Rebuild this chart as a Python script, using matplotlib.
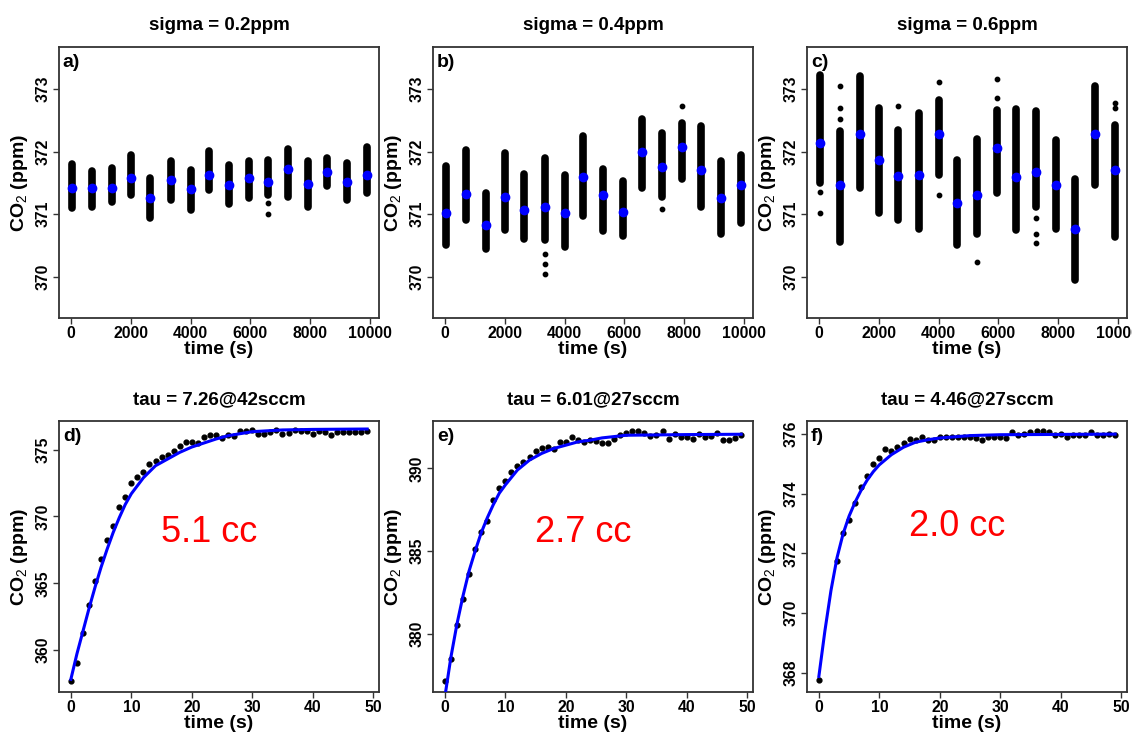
import matplotlib
matplotlib.use('Agg')
import matplotlib.pyplot as plt
import numpy as np

plt.rcParams['font.family'] = ['Liberation Sans', 'DejaVu Sans']
plt.rcParams['mathtext.fontset'] = 'custom'
plt.rcParams['mathtext.rm'] = 'Liberation Sans'
plt.rcParams['mathtext.it'] = 'Liberation Sans:italic'
plt.rcParams['mathtext.bf'] = 'Liberation Sans:bold'

# --- top row: repeated measurements, 16 groups ---
cluster_t = [50, 700, 1380, 2010, 2660, 3340, 4000, 4630, 5300, 5950, 6600, 7270, 7940, 8560, 9230, 9890]

a_mean = [371.41, 371.42, 371.42, 371.57, 371.26, 371.55, 371.40, 371.63, 371.47, 371.57, 371.51, 371.72, 371.48, 371.67, 371.51, 371.63]
a_lo = [371.09, 371.12, 371.19, 371.30, 370.93, 371.22, 371.07, 371.39, 371.16, 371.26, 371.30, 371.28, 371.12, 371.45, 371.22, 371.34]
a_hi = [371.80, 371.69, 371.73, 371.94, 371.58, 371.85, 371.71, 372.01, 371.79, 371.85, 371.86, 372.04, 371.85, 371.89, 371.81, 372.07]
a_out_i = [10, 10]
a_out_v = [371.00, 371.17]

b_mean = [371.01, 371.32, 370.82, 371.28, 371.06, 371.11, 371.01, 371.59, 371.31, 371.03, 371.99, 371.76, 372.07, 371.70, 371.26, 371.47]
b_lo = [370.51, 370.91, 370.45, 370.75, 370.60, 370.59, 370.48, 370.97, 370.73, 370.65, 371.41, 371.28, 371.56, 371.11, 370.68, 370.85]
b_hi = [371.77, 372.03, 371.33, 371.97, 371.64, 371.89, 371.63, 372.24, 371.72, 371.53, 372.52, 372.30, 372.45, 372.41, 371.85, 371.95]
b_out_i = [5, 5, 5, 11, 12]
b_out_v = [370.37, 370.21, 370.05, 371.08, 372.72]

c_mean = [372.13, 371.47, 372.28, 371.86, 371.61, 371.63, 372.28, 371.18, 371.30, 372.05, 371.59, 371.68, 371.47, 370.76, 372.28, 371.70]
c_lo = [371.50, 370.56, 371.41, 371.01, 370.91, 370.77, 371.63, 370.51, 370.69, 371.33, 370.75, 371.12, 370.77, 369.95, 371.47, 370.64]
c_hi = [373.22, 372.32, 373.21, 372.69, 372.35, 372.62, 372.82, 371.87, 372.20, 372.66, 372.68, 372.64, 372.18, 371.56, 373.04, 372.42]
c_out_i = [0, 0, 1, 1, 1, 4, 6, 6, 8, 9, 9, 11, 11, 11, 15, 15]
c_out_v = [371.36, 371.02, 373.04, 372.70, 372.52, 372.73, 373.11, 371.31, 370.24, 373.16, 372.85, 370.93, 370.69, 370.54, 372.78, 372.70]

sigma_titles = ['sigma = 0.2ppm', 'sigma = 0.4ppm', 'sigma = 0.6ppm']

# --- bottom row: step response, one reading per second ---
resp_t = list(range(50))

d_y = [357.65, 359.0, 361.25, 363.4, 365.13, 366.78, 368.25, 369.3, 370.68, 371.45,
       372.48, 372.93, 373.35, 373.93, 374.13, 374.43, 374.63, 374.88, 375.28, 375.58,
       375.58, 375.5, 375.98, 376.08, 376.08, 375.88, 376.13, 376.0, 376.43, 376.38,
       376.48, 376.18, 376.18, 376.3, 376.48, 376.18, 376.25, 376.48, 376.43, 376.38,
       376.18, 376.38, 376.33, 376.1, 376.33, 376.33, 376.3, 376.3, 376.33, 376.43]
e_y = [377.18, 378.5, 380.52, 382.14, 383.6, 385.14, 386.14, 386.82, 388.08, 388.8,
       389.26, 389.76, 390.14, 390.36, 390.7, 391.06, 391.24, 391.3, 391.14, 391.6,
       391.6, 391.9, 391.74, 391.6, 391.7, 391.64, 391.56, 391.56, 391.76, 392.0,
       392.16, 392.24, 392.24, 392.16, 391.96, 392.04, 392.24, 391.8, 392.06, 391.9,
       391.9, 391.8, 392.1, 391.9, 391.96, 392.16, 391.7, 391.7, 391.84, 392.04]
f_y = [367.74, np.nan, np.nan, 371.73, 372.68, 373.11, 373.7, 374.22, 374.59, 375.0,
       375.2, 375.49, 375.44, 375.56, 375.7, 375.84, 375.81, 375.89, 375.79, 375.79,
       375.89, 375.92, 375.92, 375.9, 375.92, 375.92, 375.87, 375.79, 375.89, 375.89,
       375.89, 375.87, 376.07, 375.96, 376.0, 376.07, 376.11, 376.11, 376.07, 375.96,
       376.0, 375.89, 375.96, 375.96, 375.98, 376.07, 375.98, 375.96, 376.0, 375.96]

# fitted curves
d_fit_t = [0, 1, 2, 3, 4, 5, 6, 7, 8, 9, 10, 12, 14, 16, 18, 20, 22, 24, 26, 28, 30, 35, 40, 49]
d_fit_y = [357.8, 359.7, 361.4, 363.1, 364.7, 366.2, 367.55, 368.8, 369.9, 370.9, 371.7, 372.9,
           373.8, 374.3, 374.8, 375.2, 375.5, 375.8, 376.05, 376.2, 376.35, 376.48, 376.52, 376.55]
e_fit_t = [0, 1, 2, 3, 4, 5, 6, 7, 8, 9, 10, 12, 14, 16, 18, 20, 22, 24, 26, 28, 30, 35, 40, 49]
e_fit_y = [376.2, 378.6, 380.6, 382.3, 383.8, 385.0, 386.1, 387.0, 387.8, 388.5, 389.0, 389.9,
           390.5, 390.9, 391.2, 391.4, 391.6, 391.7, 391.84, 391.92, 392.0, 392.02, 392.04, 392.06]
f_fit_t = [0, 1, 2, 3, 4, 5, 6, 7, 8, 9, 10, 12, 14, 16, 18, 20, 25, 30, 40, 49]
f_fit_y = [367.87, 369.4, 370.75, 371.85, 372.65, 373.25, 373.72, 374.12, 374.46, 374.74, 374.97,
           375.31, 375.56, 375.73, 375.81, 375.87, 375.95, 375.98, 375.99, 376.0]

tau_titles = ['tau = 7.26@42sccm', 'tau = 6.01@27sccm', 'tau = 4.46@27sccm']
volumes = ['5.1 cc', '2.7 cc', '2.0 cc']
resp_ylims = [(356.85, 377.15), (376.5, 392.86), (367.35, 376.44)]
resp_yticks = [[360, 365, 370, 375], [380, 385, 390], [368, 370, 372, 374, 376]]
vol_pos = [(0.47, 0.587), (0.47, 0.587), (0.47, 0.61)]

W, H = 1132, 736
fig = plt.figure(figsize=(W / 100, H / 100), dpi=100)
lefts = [59, 433, 807]


def style(ax, label):
    for s in ax.spines.values():
        s.set_color('#333333')
        s.set_linewidth(1.3)
    ax.tick_params(direction='out', length=4, width=1, color='#333333',
                   labelsize=11.3, pad=2)
    for lab in ax.get_xticklabels() + ax.get_yticklabels():
        lab.set_fontweight('bold')
    for lab in ax.get_yticklabels():
        lab.set_rotation(90)
        lab.set_va('center')
    ax.set_xlabel('time (s)', fontsize=14, fontweight='bold', labelpad=0)
    ax.set_ylabel(r'CO$_2$ (ppm)', fontsize=14, fontweight='bold', labelpad=4)
    ax.text(0.012, 0.975, label, transform=ax.transAxes, ha='left', va='top',
            fontsize=14, fontweight='bold')


tops = [(a_mean, a_lo, a_hi, a_out_i, a_out_v),
        (b_mean, b_lo, b_hi, b_out_i, b_out_v),
        (c_mean, c_lo, c_hi, c_out_i, c_out_v)]

for k, (mean, lo, hi, oi, ov) in enumerate(tops):
    ax = fig.add_axes([lefts[k] / W, 1 - 318 / H, 320 / W, 271 / H])
    ax.vlines(cluster_t, lo, hi, color='black', lw=5.5, capstyle='round')
    ax.scatter([cluster_t[i] for i in oi], ov, s=10, color='black', zorder=3)
    ax.scatter(cluster_t, mean, s=36, color='#0000ff', zorder=4)
    ax.set_xlim(-396, 10296)
    ax.set_ylim(369.34, 373.67)
    ax.set_xticks([0, 2000, 4000, 6000, 8000, 10000])
    ax.set_yticks([370, 371, 372, 373])
    ax.set_title(sigma_titles[k], fontsize=13.5, fontweight='bold', pad=12)
    style(ax, 'abc'[k] + ')')

bottoms = [(d_y, d_fit_t, d_fit_y), (e_y, e_fit_t, e_fit_y), (f_y, f_fit_t, f_fit_y)]

for k, (yv, ft, fy) in enumerate(bottoms):
    ax = fig.add_axes([lefts[k] / W, 1 - 692 / H, 320 / W, 271 / H])
    ax.scatter(resp_t, yv, s=12, color='black', zorder=3)
    ax.plot(ft, fy, color='#0000ff', lw=2.2, zorder=4)
    ax.set_xlim(-1.96, 50.96)
    ax.set_ylim(*resp_ylims[k])
    ax.set_xticks([0, 10, 20, 30, 40, 50])
    ax.set_yticks(resp_yticks[k])
    ax.set_title(tau_titles[k], fontsize=13.5, fontweight='bold', pad=12)
    ax.text(vol_pos[k][0], vol_pos[k][1], volumes[k], transform=ax.transAxes,
            ha='center', va='center', fontsize=26, color='#ff0000')
    style(ax, 'def'[k] + ')')

fig.savefig('out.png', dpi=100)
